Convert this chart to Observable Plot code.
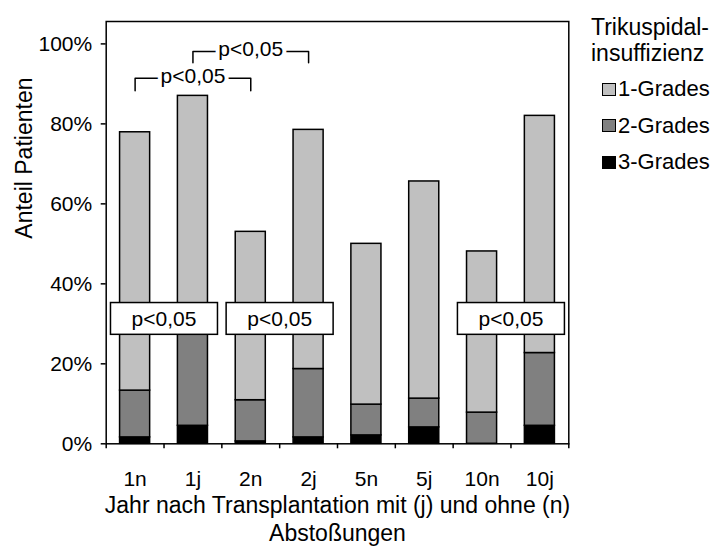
<!DOCTYPE html>
<html><head><meta charset="utf-8">
<script src="https://cdn.jsdelivr.net/npm/d3@7"></script>
<script src="https://cdn.jsdelivr.net/npm/@observablehq/plot@0.6"></script>
<style>
body{margin:0;background:#fff;font-family:"Liberation Sans",Arial,sans-serif;color:#000;}
#wrap{position:relative;width:715px;height:547px;overflow:hidden;}
#legend-title{position:absolute;left:591px;top:14px;font-size:23px;line-height:26.3px;}
.item{position:absolute;left:602px;height:24px;display:flex;align-items:center;font-size:22px;}
.sw{width:14px;height:13px;box-sizing:border-box;border:1.5px solid #000;margin-right:2px;}
</style></head><body><div id="wrap"></div>
<script>
const categories = ["1n","1j","2n","2j","5n","5j","10n","10j"];
const grade3 = [1.6, 4.5, 0.6, 1.6, 2.1, 4.1, 0, 4.5];
const grade2 = [11.7, 25.5, 10.3, 17.1, 7.7, 7.2, 7.8, 18.2];
const grade1 = [64.6, 57.0, 42.1, 59.8, 40.2, 54.3, 40.3, 59.3];
const gradeLabels = ["1-Grades","2-Grades","3-Grades"];
const gradeColors = ["#c0c0c0","#808080","#000000"];
const legendTitle = ["Trikuspidal-","insuffizienz"];
const yTicks = [0,20,40,60,80,100];
const yTitle = "Anteil Patienten";
const xTitle = "Jahr nach Transplantation mit (j) und ohne (n)\nAbstoßungen";
const sigLabel = "p<0,05";
const boxes = [{from:"1n", to:"1j"},{from:"2n", to:"2j"},{from:"10n", to:"10j"}];
const boxLow = 27.25, boxHigh = 35.2;
const brackets = [
  {id:"a", from:"1n", to:"2n", mid:"1j", top:91.4, foot:88.3},
  {id:"b", from:"1j", to:"2j", mid:"2n", top:98.1, foot:95.3}
];

const rows = [];
categories.forEach((c,i)=>{
  rows.push({cat:c, grade:gradeLabels[2], value:grade3[i]});
  rows.push({cat:c, grade:gradeLabels[1], value:grade2[i]});
  rows.push({cat:c, grade:gradeLabels[0], value:grade1[i]});
});
const bracketPts = brackets.flatMap(b=>[
  {id:b.id, x:b.from, y:b.foot},{id:b.id, x:b.from, y:b.top},
  {id:b.id, x:b.to, y:b.top},{id:b.id, x:b.to, y:b.foot}
]);

const W=715, H=547, mL=105.7, mR=146.7, mT=21, mB=103.7;
const step = (W-mL-mR)/categories.length;

const chart = Plot.plot({
  width:W, height:H, marginTop:mT, marginBottom:mB, marginLeft:mL, marginRight:mR,
  style:{fontFamily:'"Liberation Sans", Arial, sans-serif', fontSize:"21px", background:"white", color:"black", overflow:"visible"},
  x:{domain:categories, paddingInner:0.48, paddingOuter:0.24, round:false},
  y:{domain:[0,105.6]},
  color:{domain:gradeLabels, range:gradeColors},
  marks:[
    Plot.barY(rows, Plot.stackY({x:"cat", y:"value", fill:"grade", stroke:"black", strokeWidth:1.5, order:null})),
    Plot.frame({stroke:"black", strokeWidth:1.5}),
    Plot.axisY({ticks:yTicks, tickFormat:d=>d+"%", tickSize:5, tickPadding:9, fontSize:21, label:null, strokeWidth:1.5}),
    Plot.axisX({tickSize:0, tickPadding:27, fontSize:21, label:null}),
    Plot.axisX({tickSize:5, tickFormat:()=>"", dx:-step/2, label:null, strokeWidth:1.5}),
    Plot.axisX({ticks:[categories[categories.length-1]], tickSize:5, tickFormat:()=>"", dx:step/2, label:null, strokeWidth:1.5}),
    Plot.rect(boxes, {x1:"from", x2:"to", y1:boxLow, y2:boxHigh, fill:"white", stroke:"black", strokeWidth:1.5, insetLeft:-9.1, insetRight:-10}),
    Plot.text(boxes, {x:"from", y:(boxLow+boxHigh)/2, text:()=>sigLabel, dx:step/2, fontSize:21}),
    Plot.line(bracketPts, {x:"x", y:"y", z:"id", stroke:"black", strokeWidth:1.5, curve:"linear"}),
    Plot.text(brackets, {x:"mid", y:"top", text:()=>sigLabel, fontSize:21, stroke:"white", strokeWidth:8, fill:"black", paintOrder:"stroke", dy:-2}),
    Plot.text([yTitle], {frameAnchor:"left", rotate:-90, dx:-81.7, dy:6, fontSize:23}),
    Plot.text([xTitle], {frameAnchor:"bottom", lineAnchor:"middle", dy:74.5, fontSize:23, lineHeight:1.2})
  ]
});
const wrap = document.getElementById("wrap");
wrap.appendChild(chart);
const lt = document.createElement("div");
lt.id = "legend-title";
lt.innerHTML = legendTitle.join("<br>");
wrap.appendChild(lt);
const centers = [89, 125.7, 162.3];
gradeLabels.forEach((g,i)=>{
  const it = document.createElement("div");
  it.className = "item";
  it.style.top = (centers[i]-12)+"px";
  const sw = document.createElement("div");
  sw.className = "sw";
  sw.style.background = gradeColors[i];
  const tx = document.createElement("span");
  tx.textContent = g;
  it.appendChild(sw); it.appendChild(tx);
  wrap.appendChild(it);
});
</script></body></html>
